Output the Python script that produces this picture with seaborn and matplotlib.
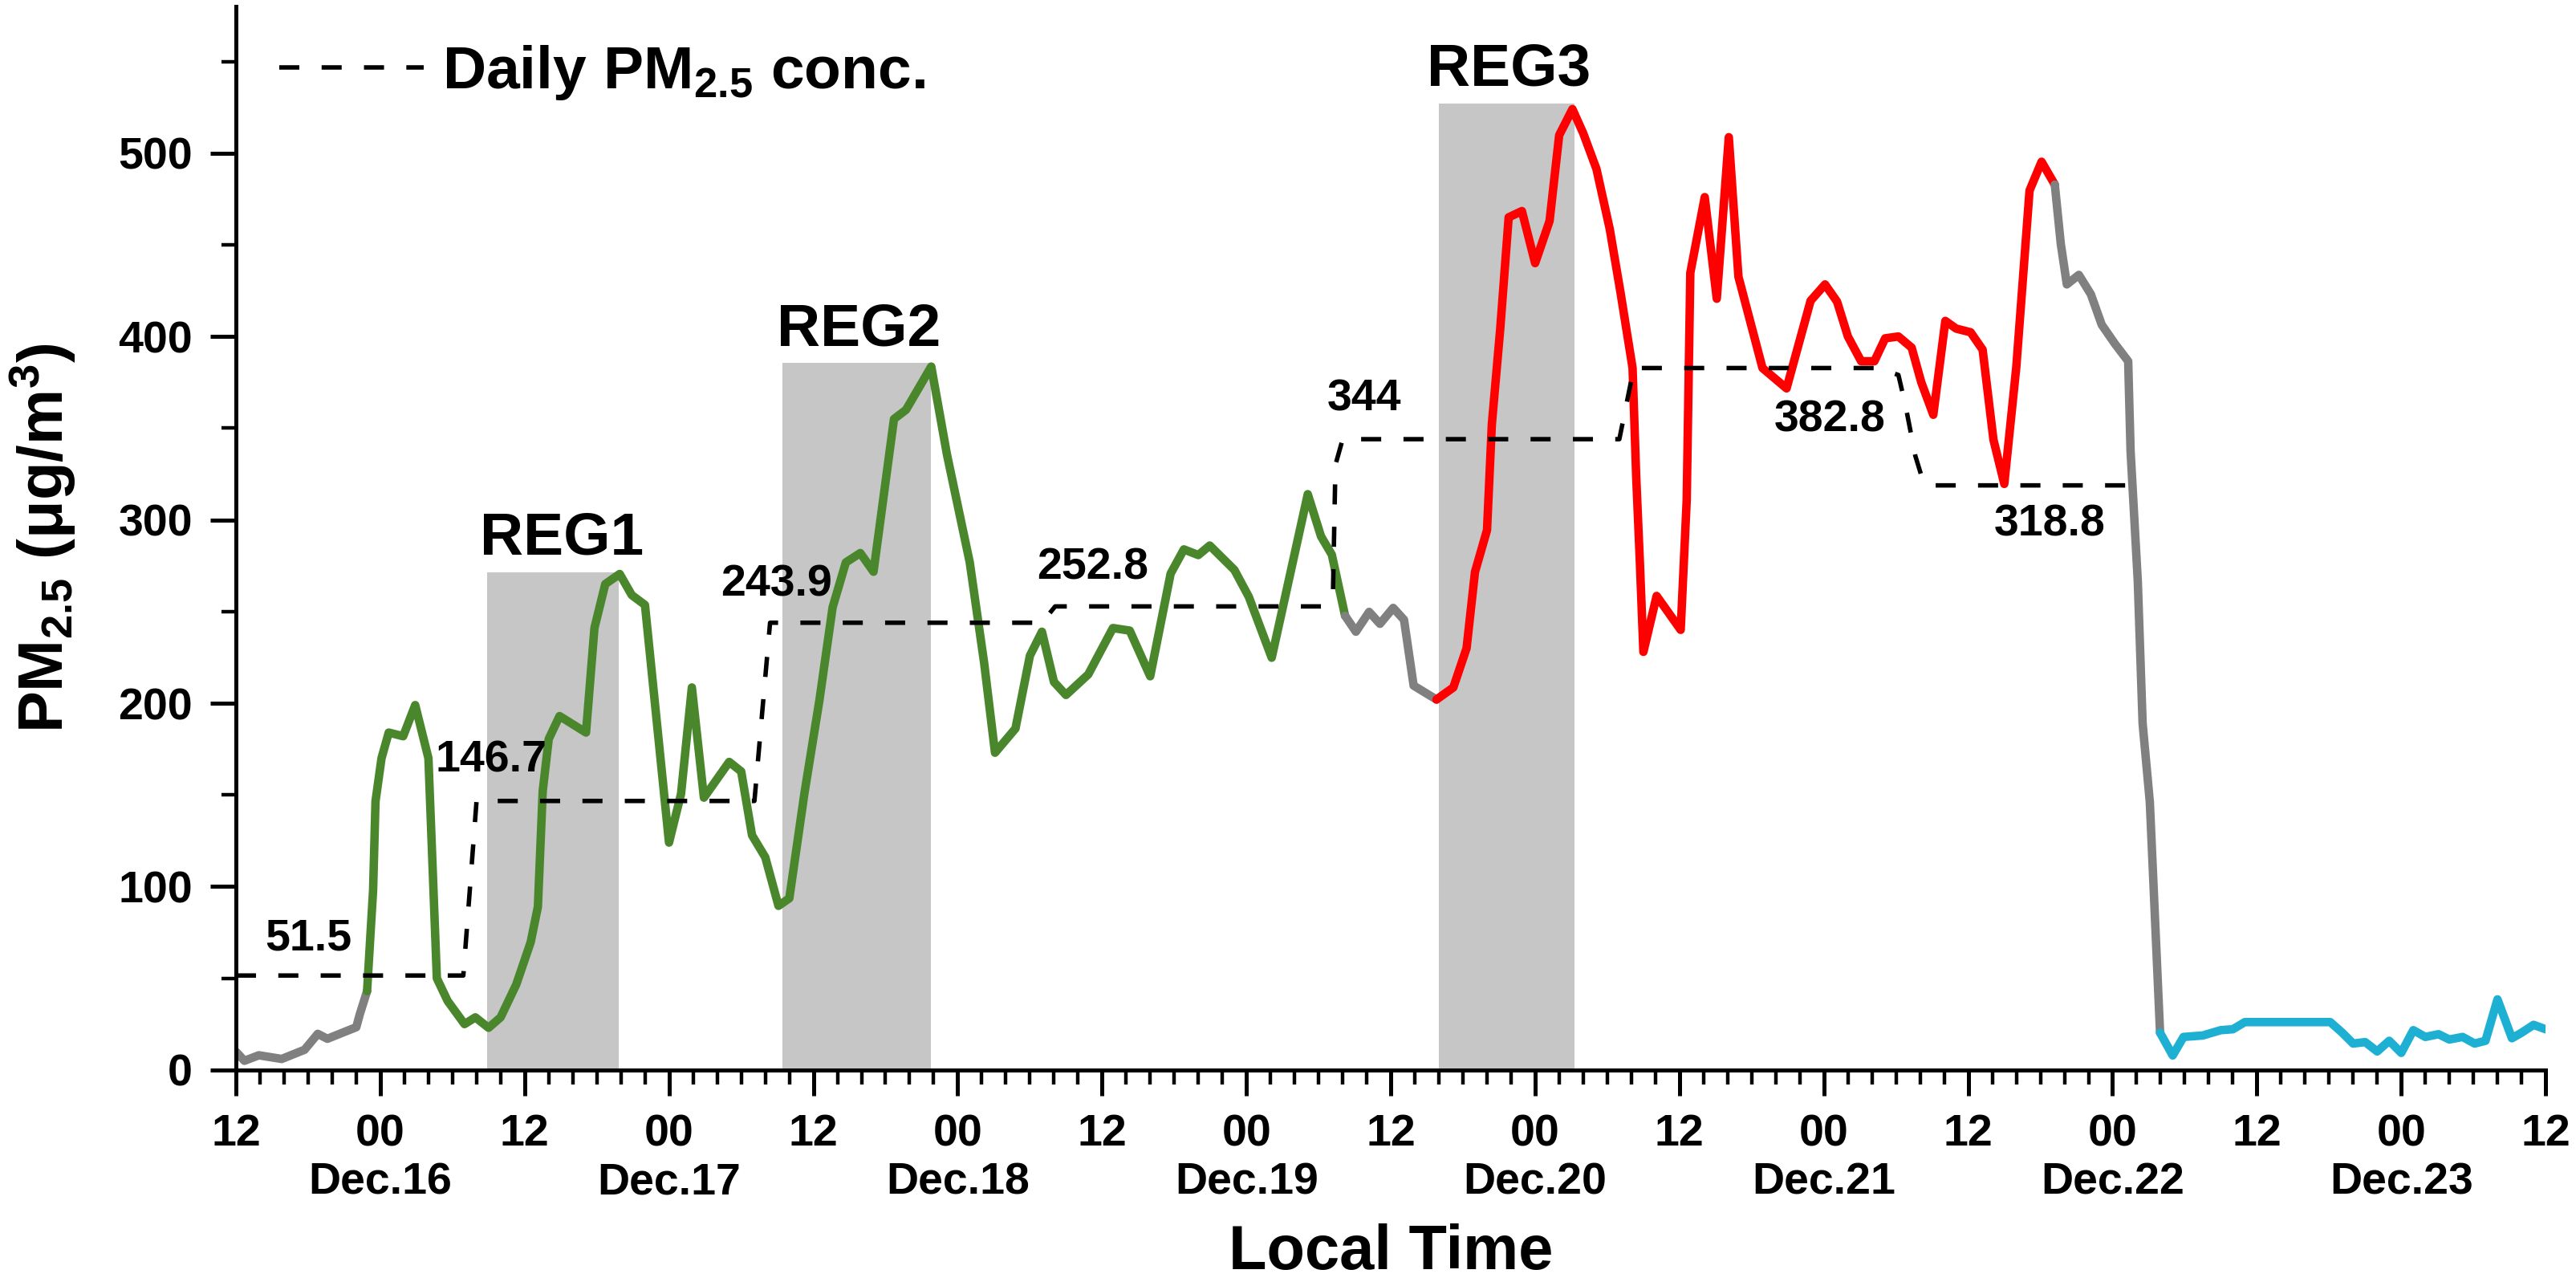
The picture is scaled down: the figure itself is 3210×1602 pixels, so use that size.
from matplotlib import pyplot as plt
from matplotlib.ticker import MultipleLocator
import pandas as pd
import seaborn as sns

# hours counted from Dec.15 12:00 local time
hours = [0.0, 0.7, 1.9, 3.8, 5.7, 6.8, 7.6, 9.0, 10.0, 10.3, 10.9,
         11.4, 11.6, 12.1, 12.7, 13.9, 14.9, 16.0, 16.7, 17.6, 19.0, 19.9,
         21.0, 22.0, 23.3, 24.5, 25.1, 25.5, 26.0, 26.9, 29.1, 29.8, 30.7,
         31.9, 32.9, 34.0, 36.0, 37.0, 37.9, 38.9, 41.0, 42.0, 42.9, 44.0,
         45.1, 46.0, 47.25, 48.5, 49.6, 50.7, 51.9, 53.0, 54.7, 55.7, 57.8,
         59.1, 61.0, 62.2, 63.1, 64.8, 66.0, 67.0, 68.0, 69.0, 70.85, 72.9,
         74.3, 76.0, 77.7, 78.8, 80.0, 80.95, 83.0, 84.2, 86.1, 89.1, 90.2,
         91.1, 92.2,
         93.1, 94.2, 95.1, 96.2, 97.1, 97.9, 99.8,
         101.2, 102.3, 103.0, 104.0, 104.4, 105.1, 105.8, 106.9, 108.0,
         109.2, 110.0, 111.1, 112.0, 113.1, 114.2, 115.1, 116.1, 116.4,
         116.7, 117.0, 118.1, 120.1, 120.6, 120.9, 122.1, 123.1, 124.1,
         124.9, 126.9, 128.9, 130.9, 132.1, 133.1, 134.0, 135.1, 136.2,
         137.1, 138.2, 139.3, 140.1, 141.1, 142.1, 143.0, 144.2, 145.2,
         146.1, 147.0, 148.0, 149.1, 150.1, 151.2,
         151.7, 152.2, 153.2, 154.2, 155.1, 156.2, 157.3, 157.5, 158.1,
         158.5, 159.1, 159.95,
         161.0, 161.9, 163.5, 165.0, 166.0, 167.0, 174.1, 175.1, 176.0,
         177.0, 178.0, 179.0, 180.0, 181.0, 182.0, 183.1, 184.0, 185.1,
         186.1, 187.0, 188.0, 189.2, 190.0, 191.0, 192.0]
pm25 = [10, 5, 8, 6, 11, 19.7, 17, 20.7, 23.3, 30.5, 43,
        98, 146.5, 170, 184, 182, 199, 170, 50, 37.6, 25, 28.7,
        23, 28.7, 46.6, 69.7, 89, 152, 180.5, 193, 184, 241, 265,
        270.5, 259, 253.6, 124, 150.6, 208.6, 148.5, 168, 162.8, 128, 116,
        89.5, 93.6, 150.6, 201.5, 252.3, 276.8, 281.9, 271.7, 355, 360, 383.6,
        335.8, 276.8, 221.8, 173, 186.2, 225.9, 239, 211.6, 204.5, 215.7, 241,
        239.6, 214.7, 270.7, 283.9, 280.8, 286, 272.7, 258, 224.8, 314, 291,
        281, 247.7,
        239, 249.8, 243.3, 252, 245.5, 209.6, 202,
        208.6, 230, 271.6, 294.4, 352, 404.3, 465, 468.4, 440,
        463, 509.8, 524, 510.8, 491.3, 458.7, 423.9, 382.8, 323.8,
        278, 228, 258.5, 240, 310.7, 434.7, 476, 420.6, 508.7,
        432.6, 382.8, 371.7, 419.5, 428.4, 419, 400, 386.5, 386.5,
        399, 400, 393.9, 375, 357.3, 408.5, 404.3, 402.3, 392.8,
        343.7, 319.6, 383.4, 479.6, 495.3, 482.8,
        450.4, 428.4, 433.6, 423, 406.4, 396, 386.5, 337.4, 266.3,
        189, 146, 20.3,
        7.9, 18, 18.8, 21.7, 22.2, 26.1, 26.1, 20.3, 14.4,
        15.2, 10.1, 15.9, 9.3, 21.7, 18, 19.5, 16.6, 18,
        14.4, 15.9, 38.5, 17.3, 20.3, 24.6, 22.2]

# colour changes of the hourly curve
phase_edges = [0, 10.9, 92.2, 99.8, 151.2, 159.95, 192]
phase_colors = ['#808080', '#4a872c', '#808080', '#ff0000', '#808080', '#1eb0d2']

# daily mean step line
daily_hours = [0, 18.9, 20.0, 43.1, 44.4, 67.0, 68.1, 90.4, 91.2, 91.4, 92.0,
               115.0, 116.2, 136.5, 138.2, 138.8, 139.6, 140.3, 141.0, 158.1]
daily_pm25 = [51.5, 51.5, 146.7, 146.7, 243.9, 243.9, 252.8, 252.8, 262, 330, 344,
              344, 382.8, 382.8, 379, 362, 335, 320, 318.8, 318.8]

mean_labels = ['51.5', '146.7', '243.9', '252.8', '344', '382.8', '318.8']
mean_label_hours = [6.0, 21.2, 44.9, 71.2, 93.8, 132.5, 150.8]
mean_label_pm25 = [71.5, 168.8, 264.5, 273.7, 365.5, 354.2, 297.3]

reg_names = ['REG1', 'REG2', 'REG3']
reg_start = [20.9, 45.4, 100.0]
reg_end = [31.8, 57.8, 111.3]
reg_top = [271.5, 385.7, 527.2]
reg_label_hours = [27.1, 51.8, 105.8]

tick_hours = list(range(0, 193, 12))
tick_labels = ['12', '00\nDec.16', '12', '00\nDec.17', '12', '00\nDec.18',
               '12', '00\nDec.19', '12', '00\nDec.20', '12', '00\nDec.21',
               '12', '00\nDec.22', '12', '00\nDec.23', '12']

df = pd.DataFrame({'hour': hours, 'pm25': pm25})
daily = pd.DataFrame({'hour': daily_hours, 'pm25': daily_pm25})

sns.set_style('ticks')
plt.rcParams['font.family'] = ['Liberation Sans', 'DejaVu Sans']
plt.rcParams['font.weight'] = 'bold'
plt.rcParams['mathtext.fontset'] = 'custom'
plt.rcParams['mathtext.rm'] = 'Liberation Sans:bold'
plt.rcParams['mathtext.it'] = 'Liberation Sans:bold'
plt.rcParams['mathtext.bf'] = 'Liberation Sans:bold'
for k in ['text.color', 'axes.labelcolor', 'xtick.color', 'ytick.color',
          'axes.edgecolor']:
    plt.rcParams[k] = 'black'

fig = plt.figure(figsize=(16.05, 8.01), dpi=200)
ax = fig.add_axes([0.0916, 0.168, 0.8966, 0.827])

for s, e, top in zip(reg_start, reg_end, reg_top):
    ax.fill_between([s, e], 0, top, color='#c6c6c6', lw=0, zorder=0)

for i, c in enumerate(phase_colors):
    seg = df[(df.hour >= phase_edges[i]) & (df.hour <= phase_edges[i + 1])]
    sns.lineplot(data=seg, x='hour', y='pm25', color=c, lw=3.8,
                 estimator=None, sort=False, ax=ax, zorder=2)

sns.lineplot(data=daily, x='hour', y='pm25', color='black', lw=2.0,
             estimator=None, sort=False, ax=ax, zorder=3,
             label='Daily PM$_{2.5}$ conc.')
ax.lines[-1].set_dashes((4.5, 5.0))

for txt, h, v in zip(mean_labels, mean_label_hours, mean_label_pm25):
    ax.text(h, v, txt, ha='center', va='center', fontsize=20, fontweight='bold')

for name, h, top in zip(reg_names, reg_label_hours, reg_top):
    ax.text(h, top + 9.5, name, ha='center', va='baseline', fontsize=27,
            fontweight='bold')

ax.set_xlim(0, 192)
ax.set_ylim(0, 580)
ax.set_xticks(tick_hours)
ax.set_xticklabels(tick_labels)
ax.xaxis.set_minor_locator(MultipleLocator(2))
ax.set_yticks([0, 100, 200, 300, 400, 500])
ax.yaxis.set_minor_locator(MultipleLocator(50))
ax.tick_params(which='major', direction='out', length=11.5, width=1.8,
               labelsize=20, pad=8, color='black', labelcolor='black')
ax.tick_params(which='minor', direction='out', length=6.5, width=1.6,
               color='black')
for lab in ax.get_xticklabels() + ax.get_yticklabels():
    lab.set_fontweight('bold')

sns.despine(ax=ax)
for sp in ['left', 'bottom']:
    ax.spines[sp].set_linewidth(1.8)
    ax.spines[sp].set_color('black')

ax.set_xlabel('Local Time', fontsize=28, fontweight='bold', labelpad=9)
ax.set_ylabel('PM$_{2.5}$ (μg/m$^3$)', fontsize=28, fontweight='bold', labelpad=18)

ax.legend(loc='upper left', bbox_to_anchor=(0.0188, 0.965), frameon=False,
          fontsize=27, handlelength=2.4, handletextpad=0.3, borderpad=0,
          borderaxespad=0)

fig.savefig('out.png', dpi=200)
